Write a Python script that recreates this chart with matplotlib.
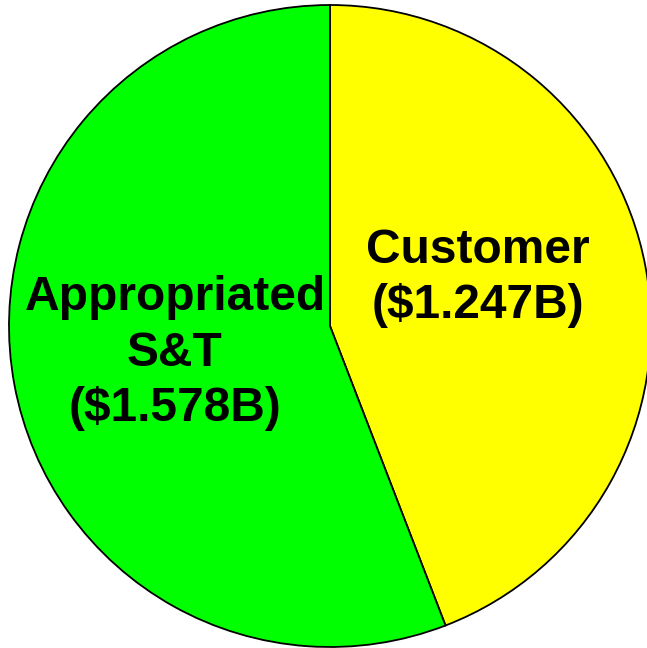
import matplotlib.pyplot as plt

labels = ['Customer\n($1.247B)', 'Appropriated\nS&T\n($1.578B)']
values = [1.247, 1.578]
colors = ['#ffff00', '#00ff00']

W, H = 647, 648
fig = plt.figure(figsize=(W / 100, H / 100), dpi=100)
ax = fig.add_axes([0, 0, 1, 1])

cx, cy, r = 330, H - 326, 321
wedges, _ = ax.pie(values, colors=colors, startangle=90, counterclock=False,
                   center=(cx, cy), radius=r, frame=True,
                   wedgeprops=dict(edgecolor='black', linewidth=1.3))
ax.set_xlim(0, W)
ax.set_ylim(0, H)
ax.axis('off')

txt_pos = [(478, H - 278), (175, H - 353)]
for lab, (x, y) in zip(labels, txt_pos):
    ax.text(x, y, lab, ha='center', va='center', fontsize=34.5, fontweight='bold',
            family='Liberation Sans', linespacing=1.3)

fig.savefig('out.png', dpi=100)
